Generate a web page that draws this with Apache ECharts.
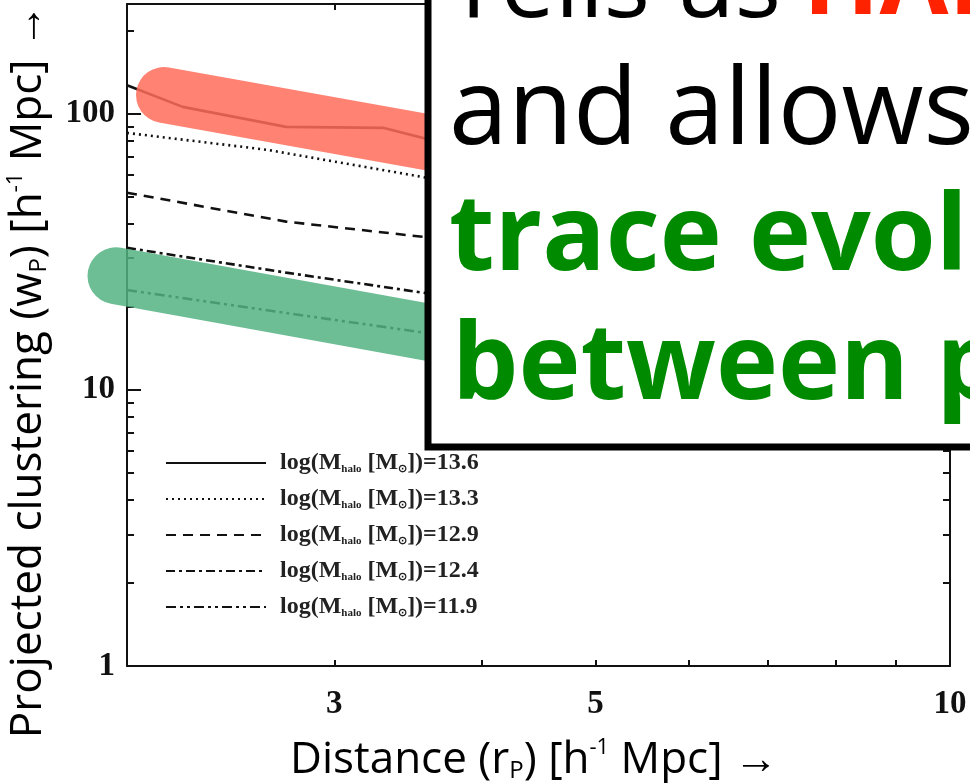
<!DOCTYPE html>
<html>
<head>
<meta charset="utf-8">
<script src="https://cdn.jsdelivr.net/npm/echarts@6/dist/echarts.min.js"></script>
<style>
html,body{margin:0;padding:0;background:#fff;}
#chart{width:970px;height:783px;}
</style>
</head>
<body>
<div id="chart"></div>
<script>
// ---- data ----
const massLabels = ['13.6', '13.3', '12.9', '12.4', '11.9'];
const rp136 = [2.0, 2.23, 2.73, 3.30, 3.62];
const wp136 = [127, 106, 89.7, 89, 80.5];
const rp133 = [2.0, 2.63, 3.62];
const wp133 = [85.3, 74.1, 58.4];
const rp129 = [2.0, 2.73, 3.62];
const wp129 = [51.8, 40.7, 35.6];
const rp124 = [2.0, 2.73, 3.62];
const wp124 = [32.7, 26.6, 22.3];
const rp119 = [2.0, 2.73, 3.62];
const wp119 = [23.0, 19.0, 16.0];
// highlight bands (annotation strokes)
const redBandX = [2.15, 6.9];
const redBandY = [117, 48];
const greenBandX = [1.957, 6.9];
const greenBandY = [25.9, 9.8];
// axis ticks / labels
const xTickVals = [3, 4, 5, 6, 7, 8, 9];
const xLabelVals = [3, 5, 10];
const yMajorVals = [1, 10, 100];
const yMinorVals = [2, 3, 4, 5, 6, 7, 8, 9, 20, 30, 40, 50, 60, 70, 80, 90, 200];

const pairs = (xs, ys) => xs.map((x, i) => [x, ys[i]]);
const chart = echarts.init(document.getElementById('chart'), null, {renderer: 'canvas'});

const serifLabel = {fontFamily: 'Liberation Serif', fontWeight: 'bold', fontSize: 33, color: '#111'};
const axisLine = {show: true, lineStyle: {color: '#111', width: 2}};

function yAx(pos, vals, len, showLine, labels, gridIndex) {
  return {
    type: 'log', logBase: 10, min: 1, max: 250, position: pos, gridIndex: gridIndex || 0,
    axisLine: showLine ? axisLine : {show: false},
    axisTick: vals ? {show: true, inside: true, length: len, customValues: vals, lineStyle: {color: '#111', width: 2}} : {show: false},
    axisLabel: labels ? Object.assign({show: true, customValues: yMajorVals, margin: 12}, serifLabel) : {show: false},
    splitLine: {show: false}
  };
}
function xAx(pos, labels) {
  return {
    type: 'log', logBase: 10, min: 2, max: 10, position: pos,
    axisLine: axisLine,
    axisTick: {show: true, inside: true, length: 6, customValues: xTickVals, lineStyle: {color: '#111', width: 2}},
    axisLabel: labels ? Object.assign({show: true, customValues: xLabelVals, margin: 22}, serifLabel) : {show: false},
    splitLine: {show: false}
  };
}

const lineTypes = ['solid', [2, 4], [10, 7], [9, 4, 3, 4], [10, 4, 3, 4, 3, 4]];
const xsArr = [rp136, rp133, rp129, rp124, rp119];
const ysArr = [wp136, wp133, wp129, wp124, wp119];

const series = massLabels.map((m, i) => ({
  name: m, type: 'line', data: pairs(xsArr[i], ysArr[i]),
  symbol: 'none', smooth: false, z: 3,
  lineStyle: {color: '#111', width: 2.6, type: lineTypes[i]},
  itemStyle: {color: '#111'},
  emphasis: {disabled: true}
}));
series.push({
  name: 'band-red', type: 'line', data: pairs(redBandX, redBandY), symbol: 'none', clip: false, z: 5,
  lineStyle: {color: 'rgba(255,108,90,0.85)', width: 56, cap: 'round'}, emphasis: {disabled: true}
});
// the green band starts left of the plot frame, so it is drawn on a twin grid whose
// log x-axis starts lower but has exactly the same scale per decade
series.push({
  name: 'band-green', type: 'line', data: pairs(greenBandX, greenBandY), symbol: 'none', clip: false, z: 5,
  xAxisIndex: 2, yAxisIndex: 4,
  lineStyle: {color: 'rgba(84,178,131,0.85)', width: 57, cap: 'round'}, emphasis: {disabled: true}
});

const legendRich = {
  t: {fontFamily: 'Liberation Serif', fontWeight: 'bold', fontSize: 24, color: '#222', lineHeight: 24},
  s: {fontFamily: 'Liberation Serif', fontWeight: 'bold', fontSize: 11, color: '#222', lineHeight: 11, verticalAlign: 'bottom'}
};

const titleRich = {
  t: {fontFamily: 'Open Sans', fontSize: 44, color: '#3a3a3a', lineHeight: 46},
  s: {fontFamily: 'Open Sans', fontSize: 24, color: '#3a3a3a', lineHeight: 24, verticalAlign: 'bottom'},
  p: {fontFamily: 'Open Sans', fontSize: 22, color: '#3a3a3a', lineHeight: 22, verticalAlign: 'top'}
};

const option = {
  animation: false,
  backgroundColor: '#fff',
  grid: [
    {left: 127, right: 20, top: 4, bottom: 117, containLabel: false},
    {left: 44, right: 20, top: 4, bottom: 117, containLabel: false, show: false}
  ],
  xAxis: [xAx('bottom', true), xAx('top', false),
          {type: 'log', gridIndex: 1, min: 1.7, max: 10, show: false}],
  yAxis: [yAx('left', yMajorVals, 14, true, true), yAx('left', yMinorVals, 7, false, false),
          yAx('right', yMajorVals, 14, true, false), yAx('right', yMinorVals, 7, false, false),
          {type: 'log', gridIndex: 1, min: 1, max: 250, show: false}],
  legend: {
    data: massLabels, orient: 'vertical', left: 160, top: 446,
    itemWidth: 100, itemHeight: 14, itemGap: 12,
    itemStyle: {opacity: 0, borderWidth: 0},
    formatter: n => '{t|log(M}{s|halo}{t| [M}{s|⊙}{t|])=' + n + '}',
    textStyle: {rich: legendRich, padding: [0, 0, 0, 9]},
    selectedMode: false
  },
  series: series,
  graphic: [
    {type: 'text', z: 50, x: 28, y: 371, rotation: Math.PI / 2,
     style: {text: '{t|Projected clustering (w}{s|P}{t|) [h}{p|-1}{t| Mpc] →}', rich: titleRich, align: 'center', verticalAlign: 'middle'}},
    {type: 'text', z: 50, x: 534, y: 760,
     style: {text: '{t|Distance (r}{s|P}{t|) [h}{p|-1}{t| Mpc] →}', rich: titleRich, align: 'center', verticalAlign: 'middle'}},
    {type: 'rect', z: 100, shape: {x: 428, y: -30, width: 700, height: 477},
     style: {fill: '#fff', stroke: '#000', lineWidth: 7}},
    {type: 'text', z: 101, x: 447, y: -11,
     style: {text: 'Tells us', fontFamily: 'Open Sans', fontSize: 97, fill: '#000', align: 'left', verticalAlign: 'middle'}},
    {type: 'text', z: 101, x: 803, y: -14,
     style: {text: 'HALO MASS', fontFamily: 'Open Sans', fontWeight: 'bold', fontSize: 100, fill: '#ff2200', align: 'left', verticalAlign: 'middle'}},
    {type: 'text', z: 101, x: 449, y: 114,
     style: {text: 'and allows us to', fontFamily: 'Open Sans', fontSize: 106, fill: '#000', align: 'left', verticalAlign: 'middle'}},
    {type: 'text', z: 101, x: 449, y: 240,
     style: {text: 'trace evolution', fontFamily: 'Open Sans', fontWeight: 'bold', fontSize: 105, fill: '#008a00', align: 'left', verticalAlign: 'middle'}},
    {type: 'text', z: 101, x: 452, y: 369,
     style: {text: 'between populations', fontFamily: 'Open Sans', fontWeight: 'bold', fontSize: 105, fill: '#008a00', align: 'left', verticalAlign: 'middle'}}
  ]
};
chart.setOption(option);
</script>
</body>
</html>
